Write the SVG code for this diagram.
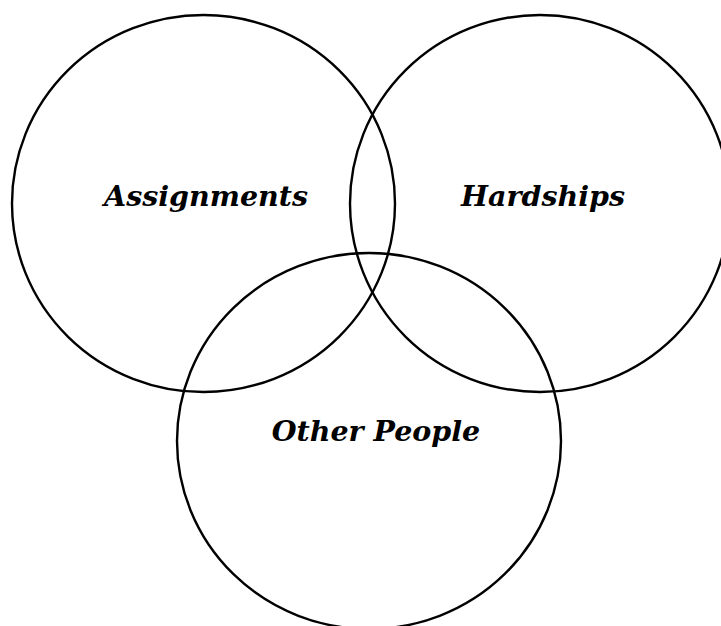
<svg xmlns="http://www.w3.org/2000/svg" width="721" height="626" viewBox="0 0 721 626">
<style>
.c{fill:none;stroke:#000;stroke-width:2.4}
.t{font-family:"DejaVu Serif","Liberation Serif",serif;font-weight:bold;font-style:italic;font-size:28.5px;fill:#000;text-anchor:middle}
</style>
<rect width="721" height="626" fill="#fff"/>
<g id="assignments">
<ellipse class="c" cx="203.5" cy="203.5" rx="191.5" ry="188.5"/>
<text class="t" x="206" y="206">Assignments</text>
</g>
<g id="hardships">
<ellipse class="c" cx="540" cy="203.5" rx="190" ry="188.5"/>
<text class="t" x="543" y="206">Hardships</text>
</g>
<g id="other-people">
<ellipse class="c" cx="369" cy="441" rx="192" ry="188"/>
<text class="t" x="376" y="441">Other People</text>
</g>
<g id="connectors"></g>
</svg>
